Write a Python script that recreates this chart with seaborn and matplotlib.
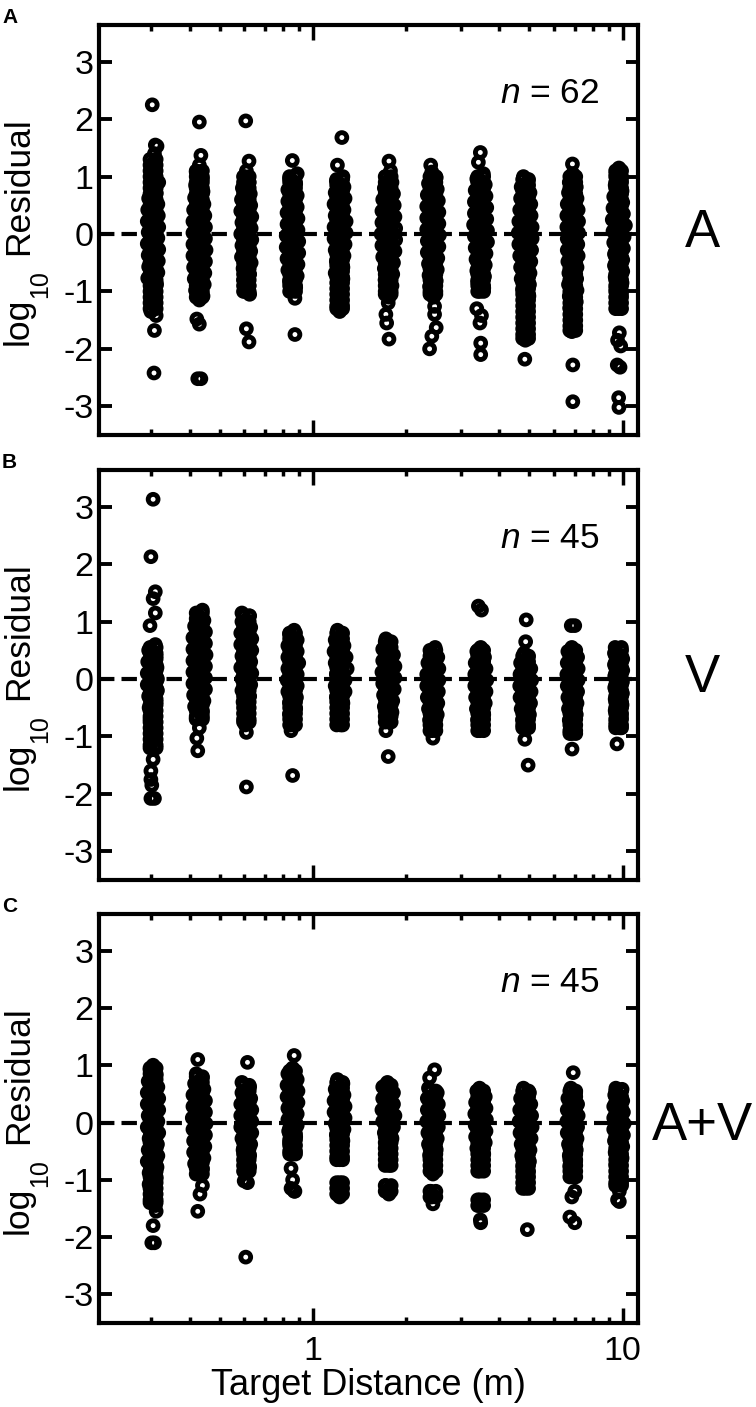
import pandas as pd
import matplotlib
matplotlib.use('Agg')
import matplotlib.pyplot as plt
import seaborn as sns
from matplotlib.ticker import FixedLocator, NullFormatter

# residuals, one inner list per target distance
a_y = [
    [2.25,1.55,1.53,1.4,1.28,1.12,1.05,.9,.82,.72,.62,.52,.42,.32,.22,.12,.03,-.07,-.17,-.27,-.37,-.47,-.57,-.67,-.77,-.87,-.97,-1.1,-1.22,-1.35,-1.42,-1.68,-2.42],
    [1.95,1.37,1.2,1.08,.96,.85,.74,.63,.52,.42,.32,.22,.12,.02,-.08,-.18,-.28,-.38,-.48,-.58,-.68,-.78,-.88,-.98,-1.08,-1.15,-1.48,-1.57,-2.52,-2.52],
    [1.97,1.27,1.1,1.0,.9,.8,.7,.6,.5,.4,.3,.2,.1,0,-.1,-.2,-.3,-.4,-.5,-.6,-.7,-.8,-.9,-1.0,-1.05,-1.65,-1.88],
    [1.28,1.05,.96,.87,.77,.67,.57,.47,.37,.27,.17,.07,-.03,-.13,-.23,-.33,-.43,-.53,-.63,-.73,-.83,-.93,-1.0,-1.12,-1.75],
    [1.68,1.2,1.0,.92,.82,.72,.62,.52,.42,.32,.22,.12,.02,-.08,-.18,-.28,-.38,-.48,-.58,-.68,-.78,-.88,-.98,-1.08,-1.2,-1.28,-1.35],
    [1.27,1.1,1.0,.9,.8,.7,.6,.5,.4,.3,.2,.1,0,-.1,-.2,-.3,-.4,-.5,-.6,-.7,-.8,-.9,-1.0,-1.1,-1.2,-1.4,-1.55,-1.83],
    [1.2,1.08,.98,.88,.78,.68,.58,.48,.38,.28,.18,.08,-.02,-.12,-.22,-.32,-.42,-.52,-.62,-.72,-.82,-.92,-1.02,-1.1,-1.26,-1.4,-1.63,-1.78,-2.0],
    [1.42,1.25,1.05,.96,.86,.76,.66,.56,.46,.36,.26,.16,.06,-.04,-.14,-.24,-.34,-.44,-.54,-.64,-.74,-.84,-.94,-1.0,-1.3,-1.42,-1.55,-1.9,-2.1],
    [1.0,.92,.82,.72,.62,.52,.42,.32,.22,.12,.02,-.08,-.18,-.28,-.38,-.48,-.58,-.68,-.78,-.88,-.98,-1.08,-1.18,-1.3,-1.42,-1.55,-1.68,-1.8,-1.85,-2.18],
    [1.22,1.05,.9,.82,.72,.62,.52,.42,.32,.22,.12,.02,-.08,-.18,-.28,-.38,-.48,-.58,-.68,-.78,-.88,-.98,-1.08,-1.18,-1.28,-1.4,-1.52,-1.7,-2.28,-2.92],
    [1.15,1.05,.95,.85,.75,.65,.55,.45,.35,.25,.15,.05,-.05,-.15,-.25,-.35,-.45,-.55,-.65,-.75,-.85,-.95,-1.05,-1.15,-1.3,-1.72,-1.85,-1.95,-2.28,-2.32,-2.85,-3.02],
]
a_x = [
    [.303,.31,.314,.308,.31,.302,.309,.318,.303,.312,.295,.316,.293,.317,.292,.318,.294,.316,.292,.318,.294,.317,.295,.316,.293,.313,.3,.31,.303,.3,.312,.308,.307],
    [.43,.435,.43,.42,.44,.418,.442,.415,.445,.412,.448,.41,.45,.41,.45,.41,.452,.41,.45,.412,.448,.414,.446,.418,.442,.43,.422,.43,.425,.435],
    [.607,.622,.61,.6,.622,.592,.628,.588,.63,.585,.635,.59,.632,.585,.635,.59,.63,.588,.632,.595,.625,.598,.622,.605,.625,.61,.622],
    [.858,.89,.84,.88,.83,.89,.83,.89,.825,.895,.825,.895,.82,.9,.82,.9,.825,.895,.83,.89,.84,.88,.85,.875,.875],
    [1.24,1.2,1.25,1.19,1.26,1.18,1.27,1.17,1.26,1.18,1.28,1.17,1.28,1.17,1.27,1.18,1.26,1.19,1.25,1.18,1.25,1.2,1.24,1.2,1.24,1.21,1.22],
    [1.76,1.78,1.72,1.8,1.7,1.82,1.68,1.83,1.67,1.84,1.67,1.85,1.66,1.85,1.67,1.84,1.68,1.82,1.7,1.81,1.71,1.8,1.73,1.76,1.75,1.72,1.73,1.76],
    [2.4,2.42,2.5,2.36,2.52,2.34,2.54,2.33,2.55,2.33,2.55,2.33,2.56,2.34,2.55,2.34,2.53,2.36,2.52,2.37,2.5,2.38,2.48,2.45,2.47,2.47,2.5,2.42,2.38],
    [3.47,3.42,3.55,3.38,3.6,3.34,3.62,3.32,3.64,3.32,3.64,3.3,3.66,3.32,3.66,3.34,3.62,3.36,3.6,3.38,3.58,3.4,3.56,3.46,3.38,3.5,3.46,3.48,3.48],
    [4.78,4.95,4.7,5.02,4.68,5.05,4.65,5.06,4.62,5.1,4.6,5.1,4.62,5.08,4.65,5.05,4.68,5.02,4.7,5.0,4.75,4.98,4.8,4.94,4.78,4.92,4.82,4.9,4.85,4.83],
    [6.88,6.9,6.72,7.08,6.68,7.12,6.62,7.18,6.6,7.2,6.6,7.2,6.62,7.16,6.62,7.18,6.65,7.12,6.7,7.1,6.68,7.12,6.72,7.08,6.75,7.02,6.9,6.85,6.9,6.9],
    [9.72,9.5,9.9,9.45,9.95,9.35,10.0,9.3,10.05,9.25,10.2,9.3,10.1,9.35,10.05,9.4,10.0,9.4,10.0,9.45,9.95,9.5,9.9,9.6,9.7,9.75,9.62,9.85,9.6,9.8,9.7,9.72],
]

b_y = [
    [3.13,2.13,1.52,1.4,1.15,.93,.6,.5,.4,.3,.2,.1,0,-.1,-.2,-.3,-.4,-.5,-.6,-.7,-.8,-.9,-1.0,-1.1,-1.2,-1.4,-1.6,-1.75,-1.85,-2.08,-2.08],
    [1.2,1.12,1.02,.92,.82,.72,.62,.52,.42,.32,.22,.12,.02,-.08,-.18,-.28,-.38,-.48,-.58,-.68,-.85,-1.03,-1.25],
    [1.15,1.1,1.0,.9,.8,.7,.6,.5,.4,.3,.2,.1,0,-.1,-.2,-.3,-.4,-.5,-.6,-.7,-.8,-.93,-1.88],
    [.85,.78,.68,.58,.48,.38,.28,.18,.08,-.02,-.12,-.22,-.32,-.42,-.52,-.62,-.72,-.8,-.9,-1.68],
    [.85,.78,.68,.58,.48,.38,.28,.18,.08,-.02,-.12,-.22,-.32,-.42,-.52,-.62,-.72,-.8],
    [.7,.62,.52,.42,.32,.22,.12,.02,-.08,-.18,-.28,-.38,-.48,-.58,-.68,-.75,-.9,-1.35],
    [.55,.48,.38,.28,.18,.08,-.02,-.12,-.22,-.32,-.42,-.52,-.62,-.72,-.82,-.9,-1.03],
    [1.27,1.2,.55,.48,.38,.28,.18,.08,-.02,-.12,-.22,-.32,-.42,-.52,-.62,-.72,-.82,-.9],
    [1.03,.65,.45,.38,.28,.18,.08,-.02,-.12,-.22,-.32,-.42,-.52,-.62,-.72,-.85,-1.05,-1.5],
    [.93,.93,.55,.48,.38,.28,.18,.08,-.02,-.12,-.22,-.32,-.42,-.52,-.62,-.72,-.82,-.95,-1.22],
    [.55,.55,.45,.35,.25,.15,.05,-.05,-.15,-.25,-.35,-.45,-.55,-.65,-.75,-.85,-1.13],
]
b_x = [
    [.305,.3,.31,.305,.31,.298,.31,.295,.312,.293,.314,.292,.315,.292,.315,.295,.312,.296,.31,.298,.31,.3,.31,.302,.31,.305,.3,.3,.302,.3,.308],
    [.44,.425,.445,.415,.45,.41,.45,.41,.452,.41,.45,.41,.45,.41,.45,.412,.445,.415,.44,.42,.43,.422,.425],
    [.59,.625,.59,.63,.585,.635,.585,.635,.59,.63,.585,.635,.59,.63,.59,.625,.595,.62,.6,.62,.605,.61,.61],
    [.87,.84,.89,.83,.89,.83,.9,.83,.89,.825,.89,.83,.885,.84,.88,.84,.87,.85,.85,.86],
    [1.2,1.24,1.18,1.26,1.17,1.28,1.18,1.29,1.19,1.27,1.18,1.27,1.19,1.25,1.2,1.24,1.2,1.23],
    [1.72,1.77,1.68,1.82,1.68,1.84,1.67,1.84,1.68,1.83,1.69,1.81,1.7,1.8,1.72,1.76,1.72,1.75],
    [2.48,2.4,2.53,2.35,2.55,2.33,2.55,2.33,2.54,2.34,2.53,2.36,2.52,2.38,2.48,2.42,2.44],
    [3.42,3.5,3.48,3.38,3.58,3.34,3.62,3.33,3.64,3.33,3.62,3.35,3.6,3.37,3.56,3.4,3.52,3.46],
    [4.88,4.86,4.8,4.95,4.68,5.05,4.66,5.08,4.65,5.06,4.66,5.04,4.7,5.0,4.75,4.92,4.83,4.95],
    [6.82,7.0,6.85,6.65,7.15,6.62,7.18,6.6,7.18,6.62,7.15,6.65,7.12,6.68,7.08,6.72,7.02,6.85,6.86],
    [9.45,9.9,9.4,10.0,9.4,10.0,9.42,9.98,9.42,9.98,9.45,9.95,9.45,9.9,9.5,9.8,9.58],
]

c_y = [
    [1.0,.92,.82,.72,.62,.52,.42,.32,.22,.12,.02,-.08,-.18,-.28,-.38,-.48,-.58,-.68,-.78,-.88,-.98,-1.08,-1.18,-1.28,-1.38,-1.45,-1.55,-1.8,-2.1,-2.1],
    [1.1,.85,.78,.68,.58,.48,.38,.28,.18,.08,-.02,-.12,-.22,-.32,-.42,-.52,-.62,-.72,-.82,-.9,-1.1,-1.25,-1.55],
    [1.05,.7,.62,.52,.42,.32,.22,.12,.02,-.08,-.18,-.28,-.38,-.48,-.58,-.68,-.78,-.85,-1.02,-1.05,-2.35],
    [1.17,.95,.85,.75,.65,.55,.45,.35,.25,.15,.05,-.05,-.15,-.25,-.35,-.45,-.55,-.8,-1.0,-1.15,-1.2,-1.2],
    [.75,.68,.58,.48,.38,.28,.18,.08,-.02,-.12,-.22,-.32,-.42,-.52,-.65,-1.05,-1.12,-1.2,-1.3],
    [.7,.62,.52,.42,.32,.22,.12,.02,-.08,-.18,-.28,-.38,-.48,-.58,-.68,-.75,-1.1,-1.15,-1.25],
    [.92,.78,.6,.52,.42,.32,.22,.12,.02,-.08,-.18,-.28,-.38,-.48,-.58,-.68,-.78,-.9,-1.2,-1.3,-1.42],
    [.6,.55,.45,.35,.25,.15,.05,-.05,-.15,-.25,-.35,-.45,-.55,-.65,-.75,-.85,-1.35,-1.45,-1.7,-1.75],
    [.6,.52,.42,.32,.22,.12,.02,-.08,-.18,-.28,-.38,-.48,-.58,-.68,-.78,-.88,-.98,-1.08,-1.15,-1.87],
    [.87,.6,.52,.42,.32,.22,.12,.02,-.08,-.18,-.28,-.38,-.48,-.58,-.68,-.78,-.88,-.95,-1.2,-1.3,-1.65,-1.75],
    [.6,.58,.48,.38,.28,.18,.08,-.02,-.12,-.22,-.32,-.42,-.52,-.62,-.72,-.82,-.92,-1.05,-1.2,-1.35,-1.38],
]
c_x = [
    [.305,.298,.312,.294,.316,.292,.318,.292,.318,.294,.316,.292,.318,.296,.315,.294,.316,.292,.314,.296,.312,.296,.31,.3,.302,.31,.312,.305,.302,.308],
    [.425,.42,.44,.415,.445,.41,.45,.41,.45,.408,.452,.41,.45,.412,.448,.412,.445,.415,.44,.43,.44,.432,.425],
    [.615,.59,.625,.59,.63,.585,.635,.585,.635,.585,.635,.59,.63,.595,.625,.6,.625,.61,.6,.615,.607],
    [.87,.86,.83,.89,.825,.895,.825,.895,.83,.89,.83,.89,.835,.88,.84,.87,.86,.85,.86,.85,.87,.875],
    [1.2,1.25,1.18,1.26,1.17,1.27,1.17,1.27,1.18,1.26,1.19,1.25,1.2,1.24,1.22,1.22,1.22,1.22,1.22],
    [1.74,1.68,1.82,1.68,1.82,1.67,1.84,1.68,1.82,1.7,1.8,1.72,1.78,1.74,1.77,1.76,1.72,1.78,1.76],
    [2.47,2.38,2.36,2.52,2.34,2.54,2.34,2.55,2.33,2.54,2.35,2.52,2.36,2.5,2.38,2.46,2.42,2.44,2.4,2.42,2.44],
    [3.45,3.38,3.6,3.35,3.62,3.33,3.63,3.34,3.62,3.35,3.6,3.38,3.56,3.42,3.54,3.46,3.46,3.46,3.47,3.48],
    [4.78,5.0,4.68,5.05,4.65,5.08,4.63,5.1,4.66,5.06,4.7,5.02,4.72,5.0,4.76,4.95,4.82,4.88,4.85,4.92],
    [6.92,6.8,7.05,6.65,7.15,6.62,7.18,6.6,7.15,6.62,7.12,6.68,7.08,6.72,7.05,6.75,7.0,6.9,7.0,6.85,6.75,7.0],
    [9.5,9.95,9.42,10.0,9.35,10.05,9.35,10.1,9.35,10.05,9.4,10.0,9.45,9.95,9.5,9.85,9.6,9.7,9.75,9.62,9.75],
]

# the solid part of each column: many overlapping trials, two tracks close to the column centre
core_left = [.298, .42, .597, .841, 1.193, 1.711, 2.386, 3.403, 4.752, 6.747, 9.485]
core_right = [.312, .44, .623, .879, 1.247, 1.789, 2.494, 3.557, 4.968, 7.053, 9.915]
a_core = [
    [1.3,1.2,1.1,1,.9,.8,.7,.6,.5,.4,.3,.2,.1,0,-.1,-.2,-.3,-.4,-.5,-.6,-.7,-.8,-.9,-1,-1.1,-1.2,-1.3],
    [1.1,1,.9,.8,.7,.6,.5,.4,.3,.2,.1,0,-.1,-.2,-.3,-.4,-.5,-.6,-.7,-.8,-.9,-1,-1.1],
    [1,.9,.8,.7,.6,.5,.4,.3,.2,.1,0,-.1,-.2,-.3,-.4,-.5,-.6,-.7,-.8,-.9,-1],
    [1,.9,.8,.7,.6,.5,.4,.3,.2,.1,0,-.1,-.2,-.3,-.4,-.5,-.6,-.7,-.8,-.9,-1],
    [.95,.85,.75,.65,.55,.45,.35,.25,.15,.05,-.05,-.15,-.25,-.35,-.45,-.55,-.65,-.75,-.85,-.95,-1.05,-1.15,-1.25,-1.3],
    [1,.9,.8,.7,.6,.5,.4,.3,.2,.1,0,-.1,-.2,-.3,-.4,-.5,-.6,-.7,-.8,-.9,-1,-1.05],
    [1,.9,.8,.7,.6,.5,.4,.3,.2,.1,0,-.1,-.2,-.3,-.4,-.5,-.6,-.7,-.8,-.9,-1,-1.05],
    [1,.9,.8,.7,.6,.5,.4,.3,.2,.1,0,-.1,-.2,-.3,-.4,-.5,-.6,-.7,-.8,-.9,-1],
    [.95,.85,.75,.65,.55,.45,.35,.25,.15,.05,-.05,-.15,-.25,-.35,-.45,-.55,-.65,-.75,-.85,-.95,-1.05,-1.15,-1.25,-1.35,-1.45,-1.55,-1.65,-1.75,-1.82],
    [1,.9,.8,.7,.6,.5,.4,.3,.2,.1,0,-.1,-.2,-.3,-.4,-.5,-.6,-.7,-.8,-.9,-1,-1.1,-1.2,-1.3,-1.4,-1.5,-1.6,-1.68],
    [1.1,1,.9,.8,.7,.6,.5,.4,.3,.2,.1,0,-.1,-.2,-.3,-.4,-.5,-.6,-.7,-.8,-.9,-1,-1.1,-1.2,-1.3],
]
b_core = [
    [.55,.45,.35,.25,.15,.05,-.05,-.15,-.25,-.35,-.45,-.55,-.65,-.75,-.85,-.95,-1.05,-1.15,-1.2],
    [1.15,1.05,.95,.85,.75,.65,.55,.45,.35,.25,.15,.05,-.05,-.15,-.25,-.35,-.45,-.55,-.65,-.7],
    [1.1,1,.9,.8,.7,.6,.5,.4,.3,.2,.1,0,-.1,-.2,-.3,-.4,-.5,-.6,-.7,-.75],
    [.8,.7,.6,.5,.4,.3,.2,.1,0,-.1,-.2,-.3,-.4,-.5,-.6,-.7,-.8],
    [.8,.7,.6,.5,.4,.3,.2,.1,0,-.1,-.2,-.3,-.4,-.5,-.6,-.7,-.8],
    [.65,.55,.45,.35,.25,.15,.05,-.05,-.15,-.25,-.35,-.45,-.55,-.65,-.75],
    [.5,.4,.3,.2,.1,0,-.1,-.2,-.3,-.4,-.5,-.6,-.7,-.8,-.9],
    [.5,.4,.3,.2,.1,0,-.1,-.2,-.3,-.4,-.5,-.6,-.7,-.8,-.9],
    [.4,.3,.2,.1,0,-.1,-.2,-.3,-.4,-.5,-.6,-.7,-.8,-.85],
    [.5,.4,.3,.2,.1,0,-.1,-.2,-.3,-.4,-.5,-.6,-.7,-.8,-.9,-.95],
    [.5,.4,.3,.2,.1,0,-.1,-.2,-.3,-.4,-.5,-.6,-.7,-.8,-.85],
]
c_core = [
    [.95,.85,.75,.65,.55,.45,.35,.25,.15,.05,-.05,-.15,-.25,-.35,-.45,-.55,-.65,-.75,-.85,-.95,-1.05,-1.15,-1.25,-1.35,-1.4],
    [.8,.7,.6,.5,.4,.3,.2,.1,0,-.1,-.2,-.3,-.4,-.5,-.6,-.7,-.8,-.9],
    [.65,.55,.45,.35,.25,.15,.05,-.05,-.15,-.25,-.35,-.45,-.55,-.65,-.75,-.85],
    [.9,.8,.7,.6,.5,.4,.3,.2,.1,0,-.1,-.2,-.3,-.4,-.5,-.55],
    [.7,.6,.5,.4,.3,.2,.1,0,-.1,-.2,-.3,-.4,-.5,-.6,-.65,-1.05,-1.15,-1.25],
    [.65,.55,.45,.35,.25,.15,.05,-.05,-.15,-.25,-.35,-.45,-.55,-.65,-.75,-1.1,-1.2],
    [.55,.45,.35,.25,.15,.05,-.05,-.15,-.25,-.35,-.45,-.55,-.65,-.75,-.85,-1.2,-1.3],
    [.55,.45,.35,.25,.15,.05,-.05,-.15,-.25,-.35,-.45,-.55,-.65,-.75,-.85,-1.35,-1.45],
    [.55,.45,.35,.25,.15,.05,-.05,-.15,-.25,-.35,-.45,-.55,-.65,-.75,-.85,-.95,-1.05,-1.15],
    [.55,.45,.35,.25,.15,.05,-.05,-.15,-.25,-.35,-.45,-.55,-.65,-.75,-.85,-.95],
    [.55,.45,.35,.25,.15,.05,-.05,-.15,-.25,-.35,-.45,-.55,-.65,-.75,-.85,-.95,-1.05,-1.1],
]

panel_letters = ['A', 'B', 'C']
side_labels = ['A', 'V', 'A+V']
n_labels = ['62', '45', '45']
y_ticks = [-3, -2, -1, 0, 1, 2, 3]
x_major = [1, 10]
x_minor = [.3, .4, .5, .6, .7, .8, .9, 2, 3, 4, 5, 6, 7, 8, 9]

sns.set_style('ticks')
plt.rcParams['font.family'] = ['Liberation Sans', 'DejaVu Sans']
plt.rcParams['mathtext.fontset'] = 'custom'
plt.rcParams['mathtext.rm'] = 'Liberation Sans'
plt.rcParams['mathtext.it'] = 'Liberation Sans:italic'
plt.rcParams['axes.unicode_minus'] = False
for key in ['text.color', 'axes.edgecolor', 'axes.labelcolor', 'xtick.color', 'ytick.color']:
    plt.rcParams[key] = 'black'

W, H = 756, 1407
fig = plt.figure(figsize=(W / 100, H / 100), dpi=100)
tops = [25, 470, 914]
bottoms = [435, 880, 1323]
side_base = [247, 692, 1140]
panels = [(a_x, a_y, a_core), (b_x, b_y, b_core), (c_x, c_y, c_core)]

for i, (xs, ys, core) in enumerate(panels):
    ax = fig.add_axes([99 / W, 1 - bottoms[i] / H, 539 / W, (bottoms[i] - tops[i]) / H])
    rows = []
    for col_x, col_y in zip(xs, ys):
        rows += list(zip(col_x, col_y))
    for left, right, col_core in zip(core_left, core_right, core):
        rows += [(left, v) for v in col_core]
        rows += [(right, v) for v in col_core]
    df = pd.DataFrame(rows, columns=['distance', 'residual'])
    sns.scatterplot(data=df, x='distance', y='residual', ax=ax, s=50, marker='o',
                    facecolor='none', edgecolor='black', linewidth=3.5, legend=False, zorder=3)
    ax.axhline(0, color='black', lw=3, dashes=(3.7, 1.7), zorder=2)
    ax.set_xscale('log')
    ax.set_xlim(0.204, 11.2)
    ax.set_ylim(-3.5, 3.64)
    ax.set_yticks(y_ticks)
    ax.xaxis.set_major_locator(FixedLocator(x_major))
    ax.xaxis.set_minor_locator(FixedLocator(x_minor))
    ax.xaxis.set_minor_formatter(NullFormatter())
    ax.tick_params(axis='y', which='major', direction='in', length=9, width=2.8, labelsize=24.5,
                   pad=4, right=True)
    ax.tick_params(axis='x', which='major', direction='in', length=11, width=2.5, labelsize=24.5,
                   pad=9, top=True)
    ax.tick_params(axis='x', which='minor', direction='in', length=4, width=2.5, top=True)
    for s in ax.spines.values():
        s.set_linewidth(3)
    ax.set_xlabel('')
    ax.set_ylabel('')
    if i < 2:
        ax.set_xticklabels([])
    else:
        ax.set_xticklabels(['1', '10'])
        ax.set_xlabel('Target Distance (m)', fontsize=26, labelpad=1)
    # y label built from pieces so the subscript keeps the size of the original
    for txt, px, py, size in [('log', 28, 345, 25.5), ('10', 47, 298, 18), ('Residual', 28, 255, 25.5)]:
        fig.text(px / W, 1 - (py - 25 + tops[i]) / H, txt, fontsize=size, rotation=90,
                 rotation_mode='anchor', ha='left', va='baseline')
    fig.text(500 / W, 1 - (tops[i] + 78) / H, f'$\\mathit{{n}}$ = {n_labels[i]}', fontsize=25.5,
             ha='left', va='baseline')
    fig.text(2 / W, 1 - (tops[i] - 2) / H, panel_letters[i], fontsize=15, fontweight='bold',
             ha='left', va='baseline')
    fig.text(702 / W, 1 - side_base[i] / H, side_labels[i], fontsize=38,
             ha='center', va='baseline')

fig.savefig('out.png', dpi=100)
